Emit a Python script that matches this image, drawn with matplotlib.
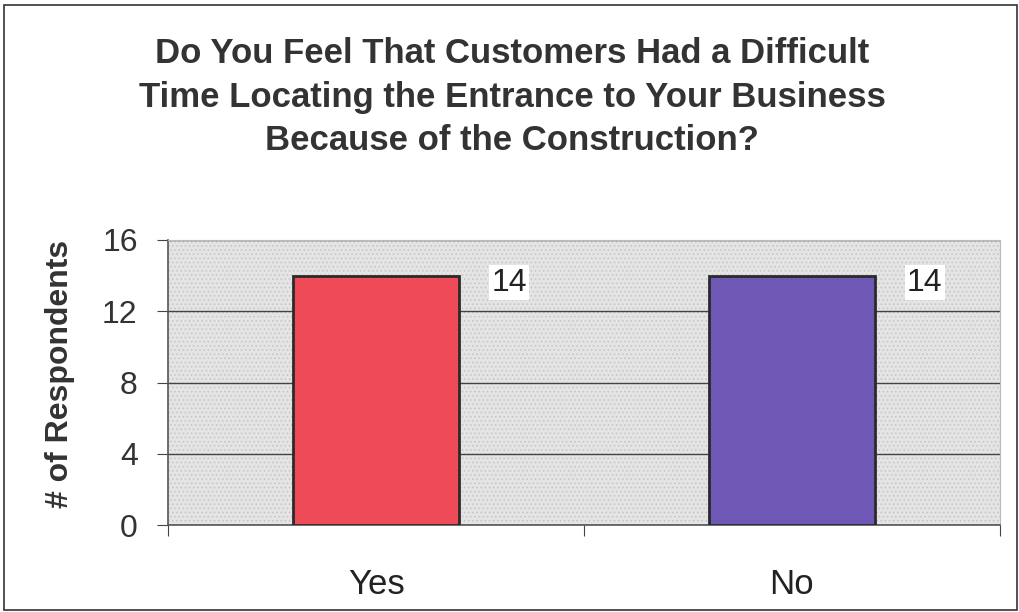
import matplotlib
matplotlib.use("Agg")
import matplotlib.pyplot as plt
from matplotlib.patches import Rectangle

categories = ["Yes", "No"]
values = [14, 14]
bar_colors = ["#ee4a57", "#6f57b5"]
yticks = [0, 4, 8, 12, 16]
title = ("Do You Feel That Customers Had a Difficult\n"
         "Time Locating the Entrance to Your Business\n"
         "Because of the Construction?")
ylabel = "# of Respondents"

plt.rcParams['font.family'] = ['Liberation Sans', 'DejaVu Sans']
plt.rcParams['hatch.linewidth'] = 0.6

fig = plt.figure(figsize=(10.2, 6.12), dpi=100)
fig.patch.set_facecolor("white")
fig.add_artist(Rectangle((0.004, 0.003), 0.993, 0.989, transform=fig.transFigure,
                         fill=False, edgecolor="#333333", linewidth=1.2))

ax = fig.add_axes([0.165, 0.142, 0.815, 0.466])
ax.set_facecolor("#e4e4e4")
ax.add_patch(Rectangle((0, 0), 1, 1, transform=ax.transAxes, facecolor="none",
                       edgecolor="#c4c4c4", hatch="....", linewidth=0, zorder=0))
x = list(range(len(categories)))
ax.bar(x, values, width=0.4, color=bar_colors, edgecolor="#2a2a2a", linewidth=2, zorder=3)
for xi, v in zip(x, values):
    ax.text(xi + 0.32, v - 0.4, str(v), ha="center", va="center", fontsize=23,
            color="#222222", zorder=4,
            bbox=dict(facecolor="white", edgecolor="none", pad=1.5))

ax.set_xlim(-0.5, 1.5)
ax.set_ylim(0, 16)
ax.set_yticks(yticks)
ax.yaxis.grid(True, color="#444444", linewidth=1)
ax.set_axisbelow(True)
ax.set_xticks([-0.5, 0.5, 1.5])
ax.set_xticklabels([])
ax.set_xticks(x, minor=True)
ax.set_xticklabels(categories, minor=True)
ax.tick_params(axis="x", which="minor", length=0, pad=31, labelsize=25, labelcolor="#222222")
ax.tick_params(axis="x", which="major", length=8, direction="out", color="#444444")
ax.tick_params(axis="y", length=8, direction="out", labelsize=23, labelcolor="#333333",
               color="#444444", pad=14)
for side in ["top", "right"]:
    ax.spines[side].set_color("#bbbbbb")
for side in ["left", "bottom"]:
    ax.spines[side].set_color("#555555")
    ax.spines[side].set_linewidth(1.2)

ax.set_ylabel(ylabel, fontsize=23, fontweight="bold", color="#333333")
ax.yaxis.set_label_coords(-0.112, 0.53)
fig.text(0.502, 0.8415, title, ha="center", va="center", fontsize=25, fontweight="bold",
         color="#333333", linespacing=1.42)

fig.savefig("out.png", dpi=100)
